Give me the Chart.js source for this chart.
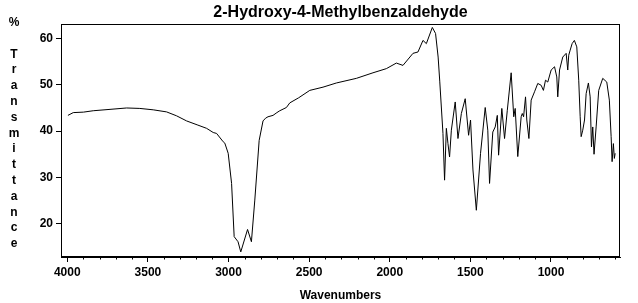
<!DOCTYPE html>
<html>
<head>
<meta charset="utf-8">
<script src="https://cdn.jsdelivr.net/npm/chart.js@4.4.0/dist/chart.umd.min.js"></script>
<style>
  html, body { margin: 0; padding: 0; background: #fff; }
</style>
</head>
<body>
<canvas id="irChart" width="638" height="303"></canvas>
<script>
// spectrum, wavenumber (cm-1) -> %T
const wavenumbers = [3996, 3963, 3900, 3839, 3735, 3632, 3550, 3467, 3384, 3322,
    3260, 3190, 3136, 3095, 3074, 3033, 3023, 3002, 2981, 2965,
    2941, 2924, 2882, 2858, 2837, 2810, 2786, 2770, 2755, 2724,
    2700, 2682, 2641, 2620, 2565, 2496, 2414, 2331, 2207, 2104,
    2021, 1959, 1918, 1856, 1825, 1794, 1773, 1736, 1716, 1700,
    1690, 1670, 1660, 1649, 1639, 1629, 1618, 1594, 1577, 1556,
    1532, 1511, 1499, 1484, 1463, 1437, 1408, 1392, 1381, 1361,
    1346, 1333, 1325, 1305, 1288, 1271, 1247, 1231, 1222, 1206,
    1185, 1178, 1170, 1158, 1150, 1137, 1123, 1102, 1082, 1061,
    1047, 1034, 1020, 999, 978, 964, 958, 947, 927, 906,
    896, 890, 881, 869, 855, 840, 828, 819, 813, 803,
    792, 782, 768, 757, 749, 741, 733, 720, 704, 679,
    654, 638, 627, 621, 613, 607, 602]
const transmittance = [43.4, 44.0, 44.1, 44.4, 44.7, 45.0, 44.9, 44.6, 44.15, 43.3,
    42.2, 41.3, 40.6, 39.7, 39.5, 37.7, 37.4, 35.2, 28.7, 17.2,
    16.1, 13.9, 18.75, 16.1, 25.1, 38.0, 42.2, 42.8, 43.1, 43.4,
    44.0, 44.4, 45.1, 46.1, 47.2, 48.8, 49.5, 50.4, 51.4, 52.6,
    53.5, 54.7, 54.2, 56.8, 57.1, 59.6, 58.9, 62.4, 61.1, 56.0,
    50.8, 39.5, 29.4, 40.6, 37.3, 34.4, 40.2, 46.3, 38.4, 43.8,
    47.0, 39.1, 42.4, 31.6, 22.9, 35.2, 45.1, 40.2, 28.7, 39.8,
    40.9, 43.4, 34.8, 44.9, 38.4, 44.5, 52.6, 43.1, 44.9, 34.5,
    43.1, 43.8, 43.1, 47.4, 42.4, 38.4, 46.7, 48.5, 50.3, 49.9,
    48.8, 51.0, 50.6, 53.2, 53.9, 51.7, 47.4, 53.2, 56.0, 56.8,
    53.2, 56.4, 57.5, 58.9, 59.6, 58.2, 51.0, 43.1, 38.8, 40.2,
    42.4, 48.1, 50.4, 47.4, 36.6, 40.9, 35.0, 40.9, 48.8, 51.4,
    50.6, 46.7, 38.8, 33.4, 37.3, 34.1, 35.2]

const xTicks = [4000, 3500, 3000, 2500, 2000, 1500, 1000]
const yTicks = [20, 30, 40, 50, 60]
const yLabel = ['%', '', 'T', 'r', 'a', 'n', 's', 'm', 'i', 't', 't', 'a', 'n', 'c', 'e']

const fontFamily = "'Liberation Sans', Arial, sans-serif"

const points = wavenumbers.map((w, i) => ({x: w, y: transmittance[i]}))

// frame, minor x ticks and the stacked y label
const extras = {
    id: 'extras',
    afterDraw(chart) {
        const ctx = chart.ctx
        const area = chart.chartArea
        const xs = chart.scales.x
        ctx.save()
        ctx.strokeStyle = '#000'
        ctx.lineWidth = 1
        const l = Math.round(area.left) + 0.5
        const t = Math.round(area.top) + 0.5
        const r = Math.round(area.right) - 0.5
        const b = Math.round(area.bottom) - 0.5
        ctx.strokeRect(l, t, r - l, b - t)

        ctx.beginPath()
        for (let w = 3900; w >= 600; w -= 100) {
            if (w % 500 === 0) continue
            const px = Math.round(xs.getPixelForValue(w)) + 0.5
            ctx.moveTo(px, b)
            ctx.lineTo(px, b + 3)
        }
        ctx.stroke()

        ctx.fillStyle = '#000'
        ctx.font = 'bold 12px ' + fontFamily
        ctx.textAlign = 'center'
        ctx.textBaseline = 'middle'
        yLabel.forEach((ch, i) => {
            ctx.fillText(ch, 14, 22.7 + i * 15.8)
        })
        ctx.restore()
    }
}

const config = {
    type: 'line',
    data: {
        datasets: [{
            data: points,
            borderColor: '#000',
            borderWidth: 1,
            pointRadius: 0,
            tension: 0,
            fill: false
        }]
    },
    options: {
        responsive: false,
        animation: false,
        devicePixelRatio: 1,
        layout: { padding: { left: 0, right: 18, top: 0, bottom: 0 } },
        plugins: {
            legend: { display: false },
            tooltip: { enabled: false },
            title: {
                display: true,
                text: '2-Hydroxy-4-Methylbenzaldehyde',
                fullSize: false,
                color: '#000',
                font: { family: fontFamily, size: 16, weight: 'bold' },
                padding: { top: 3, bottom: 2 }
            }
        },
        scales: {
            x: {
                type: 'linear',
                reverse: true,
                min: 572,
                max: 4039,
                afterBuildTicks: scale => {
                    scale.ticks = xTicks.map(v => ({value: v}))
                },
                afterFit: scale => { scale.height = 46 },
                ticks: {
                    color: '#000',
                    padding: 3,
                    maxRotation: 0,
                    callback: v => String(v),
                    font: { family: fontFamily, size: 12, weight: 'bold' }
                },
                grid: {
                    drawOnChartArea: false,
                    drawTicks: true,
                    tickLength: 5,
                    tickColor: '#000'
                },
                border: { display: true, color: '#000' },
                title: {
                    display: true,
                    text: 'Wavenumbers',
                    color: '#000',
                    padding: { top: 0, bottom: 0 },
                    font: { family: fontFamily, size: 12, weight: 'bold' }
                }
            },
            y: {
                min: 12.8,
                max: 63.1,
                afterBuildTicks: scale => {
                    scale.ticks = yTicks.map(v => ({value: v}))
                },
                afterFit: scale => { scale.width = 61 },
                ticks: {
                    color: '#000',
                    padding: 3,
                    callback: v => String(v),
                    font: { family: fontFamily, size: 12, weight: 'bold' }
                },
                grid: {
                    drawOnChartArea: false,
                    drawTicks: true,
                    tickLength: 5,
                    tickColor: '#000'
                },
                border: { display: true, color: '#000' }
            }
        }
    },
    plugins: [extras]
}

const irChart = new Chart(document.getElementById('irChart'), config)
</script>
</body>
</html>
